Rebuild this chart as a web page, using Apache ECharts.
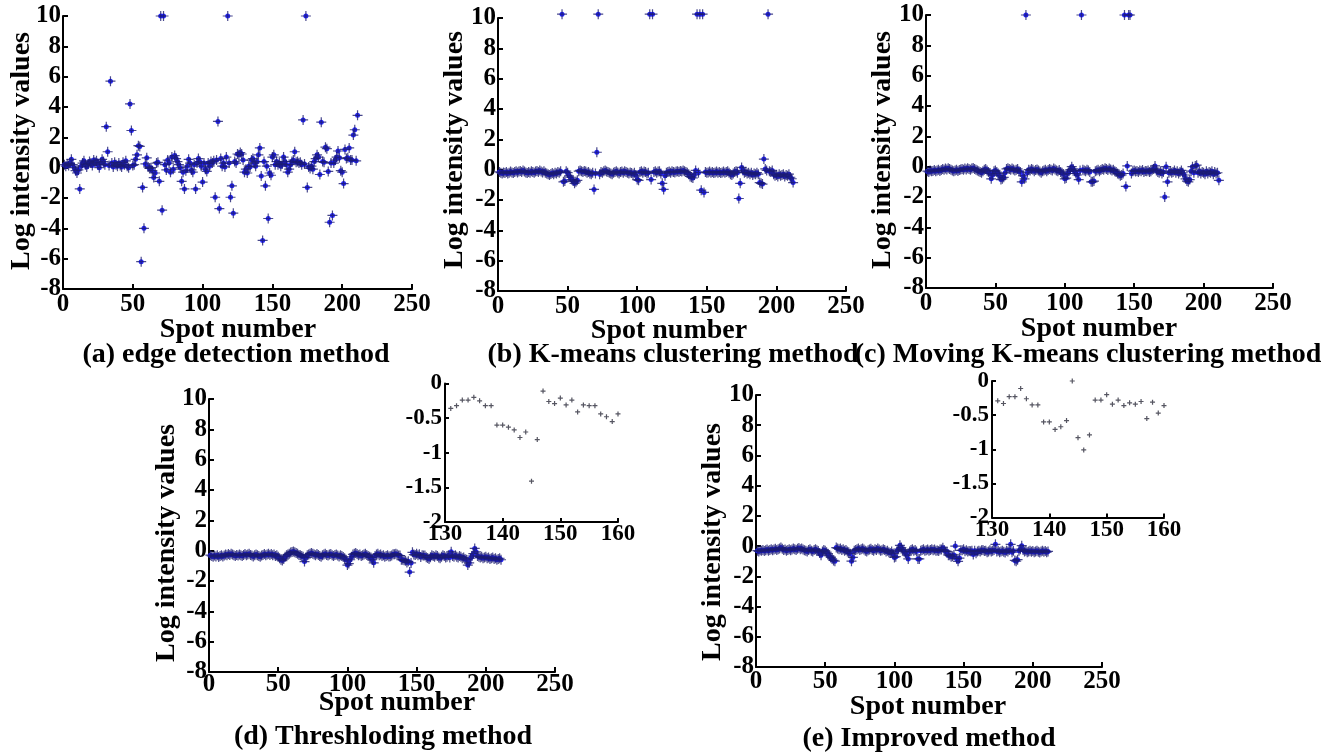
<!DOCTYPE html>
<html>
<head>
<meta charset="utf-8">
<script src="https://cdn.jsdelivr.net/npm/echarts@6/dist/echarts.min.js"></script>
<style>html,body{margin:0;padding:0;background:#fff;}#chart{width:1329px;height:756px;}</style>
</head>
<body>
<div id="chart"></div>
<script>
// ---- data (values indexed by spot number, starting at spot 1) ----
const valuesA = [
0.2,0.1,0.25,0.15,0.3,0.55,0.2,0.0,-0.2,-0.35,
-0.15,-1.4,0.1,0.3,0.45,0.2,0.05,0.25,0.4,0.3,
0.15,0.5,0.35,0.45,0.2,0.0,0.3,0.55,0.4,0.2,
2.7,1.05,0.15,5.7,0.3,0.05,0.35,0.2,0.1,0.3,
0.15,0.05,0.35,0.2,0.45,0.1,0.0,4.2,2.45,0.15,
0.2,0.55,0.85,1.45,1.4,-6.2,-1.3,-4.0,0.25,0.65,
0.05,-0.05,0.0,-0.2,-0.65,-0.35,0.3,0.35,-0.9,10,
-2.8,10,0.2,-0.15,0.5,0.3,-0.3,0.7,-0.1,0.8,
0.6,0.4,0.2,0.0,-0.9,-0.3,-1.4,-0.2,0.1,0.55,
0.3,-0.15,-0.3,0.2,-1.4,0.3,0.6,0.4,0.1,-0.95,
0.3,-0.1,-0.25,0.3,0.1,0.4,0.3,0.45,-1.95,0.5,
3.05,-2.7,0.6,0.1,0.3,0.05,0.7,10,0.3,-1.95,
-1.2,-3.0,0.4,0.3,0.9,0.85,1.0,0.9,0.5,-0.3,
-0.1,-0.35,0.1,0.05,0.5,0.6,0.3,0.1,0.4,0.85,
1.3,-0.55,-4.8,0.4,-1.2,0.1,-3.35,-0.35,-0.5,0.7,
0.85,0.2,0.4,0.2,0.3,0.1,0.25,0.7,0.4,0.2,
-0.3,-0.1,0.2,0.4,0.5,1.05,0.35,0.4,0.3,0.35,
0.2,3.15,0.25,10,-1.3,0.05,-0.05,0.1,-0.1,0.4,
0.6,0.85,0.7,-0.45,3.0,0.4,0.35,1.35,1.25,-0.25,
-3.6,0.3,-3.15,0.3,0.5,0.7,1.1,0.65,-0.2,-0.3,
-1.05,1.2,0.6,0.65,1.3,0.5,0.5,2.15,2.5,0.45,3.45
];
const valuesB = [
-0.15,-0.2,-0.25,-0.18,-0.22,-0.15,-0.25,-0.2,-0.12,-0.18,
-0.22,-0.15,-0.1,-0.18,-0.12,-0.08,-0.15,-0.05,-0.12,-0.18,
-0.22,-0.15,-0.2,-0.1,-0.15,-0.2,-0.12,-0.08,-0.15,-0.05,
-0.12,-0.18,-0.1,-0.2,-0.25,-0.3,-0.35,-0.28,-0.22,-0.3,
-0.2,-0.25,-0.15,-0.2,-0.1,10.25,-0.8,-0.75,-0.1,-0.2,
-0.4,-0.5,-0.65,-0.75,-0.9,-0.8,-0.7,-0.1,-0.05,-0.1,
-0.15,-0.08,-0.12,-0.2,-0.15,-0.25,-0.3,-0.2,-1.3,-0.25,
1.15,10.25,-0.3,-0.15,-0.2,-0.1,-0.05,-0.12,-0.15,-0.2,
-0.25,-0.3,-0.2,-0.15,-0.1,-0.18,-0.25,-0.15,-0.12,-0.2,
-0.1,-0.15,-0.2,-0.25,-0.18,-0.22,-0.3,-0.2,-0.35,-0.65,
-0.7,-0.15,-0.1,-0.2,-0.12,-0.15,-0.25,-0.2,10.25,-0.65,
10.25,-0.15,-0.1,-0.2,-0.12,-0.1,-0.25,-0.9,-1.3,-0.4,
-0.2,-0.15,-0.12,-0.2,-0.1,-0.15,-0.18,-0.12,-0.1,-0.15,
-0.08,-0.12,-0.05,-0.1,-0.15,-0.2,-0.3,-0.45,-0.5,-0.55,
-0.35,-0.05,10.25,-0.2,10.25,-1.35,10.25,-1.5,-0.15,-0.2,
-0.18,-0.12,-0.2,-0.15,-0.22,-0.18,-0.12,-0.2,-0.15,-0.22,
-0.18,-0.12,-0.2,-0.15,-0.1,-0.2,-0.3,-0.35,-0.25,-0.15,
-0.1,-0.2,-1.9,-0.9,0.15,-0.05,-0.2,-0.15,-0.25,-0.2,
-0.3,-0.2,-0.35,-0.25,-0.3,-0.2,-0.3,-0.85,-0.9,-0.95,
0.7,0.05,-0.05,10.25,-0.1,-0.15,-0.05,-0.3,-0.4,-0.35,
-0.45,-0.3,-0.4,-0.35,-0.3,-0.45,-0.35,-0.4,-0.3,-0.5,-0.6,-0.85
];
const valuesC = [
-0.3,-0.35,-0.25,-0.3,-0.28,-0.22,-0.3,-0.25,-0.2,-0.28,
-0.22,-0.15,-0.2,-0.12,-0.18,-0.1,-0.15,-0.2,-0.25,-0.3,
-0.25,-0.2,-0.28,-0.22,-0.18,-0.15,-0.2,-0.12,-0.18,-0.1,
-0.15,-0.2,-0.12,-0.08,-0.15,-0.2,-0.25,-0.3,-0.35,-0.4,
-0.3,-0.2,-0.15,-0.25,-0.35,-0.45,-0.8,-0.55,-0.3,-0.25,
-0.35,-0.45,-0.6,-0.85,-0.8,-0.7,-0.4,-0.15,-0.1,-0.15,
-0.2,-0.12,-0.18,-0.25,-0.2,-0.15,-0.3,-0.35,-1.0,-0.6,
-0.8,10.0,-0.4,-0.2,-0.25,-0.15,-0.2,-0.3,-0.22,-0.18,
-0.25,-0.32,-0.4,-0.3,-0.25,-0.2,-0.3,-0.22,-0.15,-0.2,
-0.25,-0.12,-0.18,-0.25,-0.3,-0.22,-0.35,-0.4,-0.5,-0.8,
-0.75,-0.45,-0.3,-0.2,0.0,-0.15,-0.3,-0.45,-0.55,-0.85,
-0.25,10.0,-0.2,-0.25,-0.3,-0.2,-0.25,-0.35,-1.0,-1.0,
-0.95,-0.3,-0.25,-0.2,-0.3,-0.22,-0.15,-0.2,-0.1,-0.15,
-0.22,-0.12,-0.18,-0.25,-0.2,-0.3,-0.35,-0.45,-0.5,-0.6,
-0.55,-0.45,10.0,-1.3,0.05,10.0,10.0,-0.45,-0.3,-0.25,
-0.32,-0.28,-0.35,-0.25,-0.3,-0.22,-0.35,-0.28,-0.3,-0.25,
-0.35,-0.3,-0.2,-0.15,0.05,-0.25,-0.35,-0.4,-0.3,-0.45,
-0.35,-2.0,0.0,-1.0,-0.4,-0.3,-0.4,-0.35,-0.25,-0.4,
-0.3,-0.45,-0.35,-0.25,-0.4,-0.55,-0.8,-0.95,-1.0,-0.85,
-0.3,0.0,-0.4,0.05,0.1,-0.4,-0.3,-0.45,-0.35,-0.4,
-0.5,-0.3,-0.45,-0.35,-0.4,-0.3,-0.5,-0.35,-0.45,-0.4,-0.9
];
const valuesD = [
-0.3,-0.35,-0.4,-0.32,-0.38,-0.3,-0.42,-0.35,-0.3,-0.38,
-0.32,-0.25,-0.3,-0.22,-0.28,-0.2,-0.25,-0.3,-0.35,-0.28,
-0.32,-0.25,-0.3,-0.35,-0.28,-0.22,-0.3,-0.25,-0.2,-0.28,
-0.32,-0.38,-0.3,-0.25,-0.3,-0.35,-0.4,-0.32,-0.28,-0.22,
-0.3,-0.25,-0.2,-0.28,-0.22,-0.3,-0.25,-0.35,-0.3,-0.4,
-0.5,-0.6,-0.65,-0.55,-0.4,-0.3,-0.25,-0.2,-0.12,-0.08,
-0.05,-0.1,-0.15,-0.2,-0.28,-0.3,-0.35,-0.4,-0.72,-0.45,
-0.3,-0.25,-0.2,-0.15,-0.2,-0.25,-0.3,-0.22,-0.28,-0.35,
-0.4,-0.3,-0.25,-0.2,-0.28,-0.32,-0.25,-0.22,-0.3,-0.35,
-0.28,-0.25,-0.32,-0.38,-0.3,-0.35,-0.42,-0.5,-0.6,-0.95,
-0.85,-0.6,-0.4,-0.25,-0.2,-0.15,-0.22,-0.3,-0.25,-0.35,
-0.3,-0.25,-0.2,-0.28,-0.35,-0.4,-0.45,-0.6,-0.8,-0.35,
-0.25,-0.2,-0.3,-0.25,-0.35,-0.3,-0.4,-0.35,-0.3,-0.38,
-0.36,-0.32,-0.24,-0.24,-0.2,-0.25,-0.32,-0.32,-0.6,-0.6,
-0.63,-0.67,-0.78,-0.7,-1.41,-0.81,-0.11,-0.26,-0.29,-0.21,
-0.31,-0.24,-0.41,-0.31,-0.32,-0.32,-0.44,-0.48,-0.55,-0.44,
-0.3,-0.35,-0.4,-0.3,-0.35,-0.45,-0.5,-0.4,-0.3,-0.35,
-0.45,-0.4,-0.3,-0.45,-0.07,-0.35,-0.4,-0.3,-0.4,-0.45,
-0.35,-0.4,-0.5,-0.45,-0.55,-0.6,-0.95,-0.8,-0.5,-0.35,
-0.2,0.15,-0.07,-0.35,-0.4,-0.45,-0.4,-0.5,-0.45,-0.4,
-0.5,-0.45,-0.55,-0.5,-0.45,-0.55,-0.5,-0.6,-0.55,-0.5,-0.6
];
const valuesE = [
-0.3,-0.35,-0.28,-0.3,-0.25,-0.32,-0.28,-0.22,-0.3,-0.25,
-0.2,-0.28,-0.22,-0.18,-0.25,-0.2,-0.15,-0.1,-0.18,-0.25,
-0.22,-0.3,-0.25,-0.2,-0.28,-0.22,-0.15,-0.2,-0.25,-0.18,
-0.12,-0.2,-0.15,-0.22,-0.28,-0.3,-0.35,-0.25,-0.2,-0.3,
-0.35,-0.25,-0.2,-0.28,-0.32,-0.45,-0.6,-0.35,-0.25,-0.3,
-0.4,-0.5,-0.65,-0.75,-0.85,-0.95,-1.0,-0.1,-0.15,-0.2,
-0.15,-0.25,-0.2,-0.3,-0.25,-0.35,-0.4,-0.5,-1.0,-0.75,
-0.3,-0.25,-0.2,-0.15,-0.25,-0.2,-0.15,-0.22,-0.3,-0.35,
-0.28,-0.22,-0.18,-0.25,-0.3,-0.2,-0.25,-0.15,-0.22,-0.3,
-0.28,-0.2,-0.25,-0.35,-0.3,-0.4,-0.45,-0.35,-0.5,-0.75,
-0.7,-0.3,-0.2,0.05,-0.1,-0.25,-0.35,-0.45,-0.6,-0.85,
-0.35,-0.25,-0.2,-0.3,-0.25,-0.35,-0.85,-0.85,-0.3,-0.25,
-0.2,-0.3,-0.28,-0.22,-0.3,-0.25,-0.2,-0.28,-0.22,-0.3,
-0.29,-0.33,-0.23,-0.23,-0.11,-0.26,-0.35,-0.35,-0.6,-0.6,
-0.71,-0.67,-0.58,0.0,-0.83,-1.01,-0.79,-0.28,-0.28,-0.2,
-0.34,-0.28,-0.36,-0.32,-0.34,-0.3,-0.55,-0.31,-0.47,-0.36,
-0.3,-0.35,-0.28,-0.25,-0.32,-0.3,-0.4,-0.35,-0.28,-0.35,
-0.3,-0.25,0.12,-0.35,-0.3,-0.4,-0.35,-0.3,-0.38,-0.42,
-0.3,-0.35,-0.25,0.12,-0.4,-0.3,-0.95,-1.0,-0.9,-0.3,
-0.2,0.03,-0.25,-0.35,-0.3,-0.4,-0.35,-0.3,-0.38,-0.32,
-0.4,-0.35,-0.3,-0.38,-0.42,-0.35,-0.3,-0.38,-0.32,-0.4,-0.35
];
const mainXTicks = [0, 50, 100, 150, 200, 250];
const mainYTicks = [-8, -6, -4, -2, 0, 2, 4, 6, 8, 10];
const insetXTicks = [130, 140, 150, 160];
const insetYTicks = [-2, -1.5, -1, -0.5, 0];
const insetFirstSpot = 131;
const insetLastSpot = 160;
const captions = ['(a) edge detection method', '(b) K-means clustering method',
  '(c) Moving K-means clustering method', '(d) Threshloding method', '(e) Improved method'];
const xTitle = 'Spot number';
const yTitle = 'Log intensity values';

// ---- layout & style ----
const FONT = "'Liberation Serif','Times New Roman',serif";
const mainGrids = [
  {left: 63, top: 16, width: 349, height: 273, lm: 3},
  {left: 498, top: 18, width: 348, height: 273, lm: 3},
  {left: 926, top: 15, width: 347, height: 273, lm: 3},
  {left: 209, top: 399, width: 346, height: 273, lm: 0},
  {left: 756, top: 395, width: 346, height: 272, lm: 2}
];
const insetGrids = [
  {left: 445, top: 383.5, width: 173, height: 138.5},
  {left: 992, top: 381, width: 172, height: 136.5}
];
const yTitlePos = [[22,151],[455,150],[883,150],[167,543],[713,542]];
const xTitlePos = [[238,330],[669,331],[1099,329],[397,703],[928,707]];
const capPos = [[236,355],[673,355],[1088,355],[383,737],[929,739]];

const PLUS = 'path://M-1,-0.12L1,-0.12L1,0.12L-1,0.12Z M-0.12,-1L0.12,-1L0.12,1L-0.12,1Z';
const PLUS_SMALL = 'path://M-1,-0.24L1,-0.24L1,0.24L-1,0.24Z M-0.24,-1L0.24,-1L0.24,1L-0.24,1Z';

const allValues = [valuesA, valuesB, valuesC, valuesD, valuesE];

function axisCommon(fs, margin) {
  return {
    type: 'value',
    axisLine: {show: true, onZero: false, lineStyle: {color: '#000', width: 2}},
    axisTick: {show: true, inside: true, length: 5, lineStyle: {color: '#000', width: 2}},
    axisLabel: {color: '#000', fontSize: fs, fontWeight: 'bold', fontFamily: FONT, margin: margin},
    splitLine: {show: false}
  };
}

const grid = [], xAxis = [], yAxis = [], series = [], graphic = [];
mainGrids.forEach((g, i) => {
  grid.push({left: g.left, top: g.top, width: g.width, height: g.height, containLabel: false});
  xAxis.push(Object.assign(axisCommon(25, g.lm), {gridIndex: i,
    min: mainXTicks[0], max: mainXTicks[mainXTicks.length - 1], interval: mainXTicks[1] - mainXTicks[0]}));
  yAxis.push(Object.assign(axisCommon(25, 2), {gridIndex: i,
    min: mainYTicks[0], max: mainYTicks[mainYTicks.length - 1], interval: mainYTicks[1] - mainYTicks[0]}));
  const data = allValues[i].map((v, k) => [k + 1, v]);
  series.push({type: 'scatter', xAxisIndex: i, yAxisIndex: i, data: data, clip: false,
    symbol: 'circle', symbolSize: 5, itemStyle: {color: '#1a1aff', opacity: 0.95}, silent: true});
  series.push({type: 'scatter', xAxisIndex: i, yAxisIndex: i, data: data, clip: false,
    symbol: PLUS, symbolSize: 10, itemStyle: {color: '#1c1c70'}, silent: true});
});
[3, 4].forEach((src, j) => {
  const g = insetGrids[j];
  const idx = mainGrids.length + j;
  grid.push({left: g.left, top: g.top, width: g.width, height: g.height, containLabel: false});
  const xa = axisCommon(23, 1);
  xa.axisTick.length = 4;
  xAxis.push(Object.assign(xa, {gridIndex: idx,
    min: insetXTicks[0], max: insetXTicks[insetXTicks.length - 1], interval: insetXTicks[1] - insetXTicks[0]}));
  const ya = axisCommon(23, 3);
  ya.axisTick.length = 4;
  yAxis.push(Object.assign(ya, {gridIndex: idx,
    min: insetYTicks[0], max: insetYTicks[insetYTicks.length - 1], interval: insetYTicks[1] - insetYTicks[0]}));
  const data = allValues[src].slice(insetFirstSpot - 1, insetLastSpot).map((v, k) => [insetFirstSpot + k, v]);
  series.push({type: 'scatter', xAxisIndex: idx, yAxisIndex: idx, data: data, clip: false,
    symbol: PLUS_SMALL, symbolSize: 5, itemStyle: {color: '#2a2a3a'}, silent: true});
});

function txt(text, x, y, size, rot) {
  return {type: 'text', x: x, y: y, rotation: rot || 0, silent: true,
    style: {text: text, fill: '#000', fontSize: size, fontWeight: 'bold', fontFamily: FONT,
      align: 'center', verticalAlign: 'middle', textAlign: 'center', textVerticalAlign: 'middle'}};
}
for (let i = 0; i < 5; i++) {
  graphic.push(txt(yTitle, yTitlePos[i][0], yTitlePos[i][1], 28, Math.PI / 2));
  graphic.push(txt(xTitle, xTitlePos[i][0], xTitlePos[i][1], 28));
  graphic.push(txt(captions[i], capPos[i][0], capPos[i][1], 28));
}

const chart = echarts.init(document.getElementById('chart'), null, {renderer: 'canvas'});
chart.setOption({animation: false, backgroundColor: '#fff', grid, xAxis, yAxis, series, graphic});
</script>
</body>
</html>
